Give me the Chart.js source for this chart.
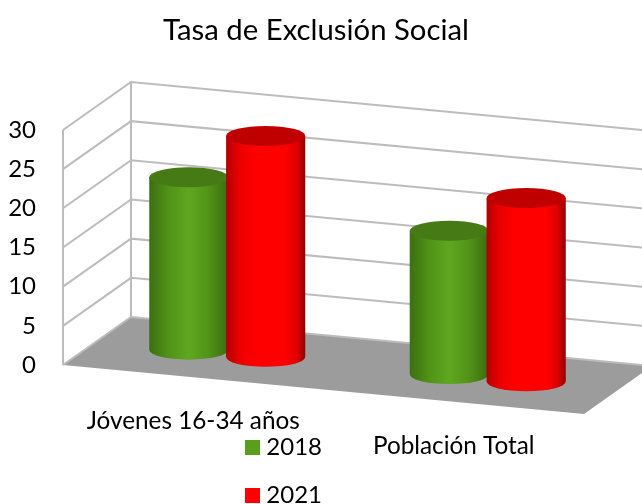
<!DOCTYPE html>
<html>
<head>
<meta charset="utf-8">
<title>Tasa de Exclusión Social</title>
<script src="https://cdn.jsdelivr.net/npm/chart.js@4/dist/chart.umd.min.js"></script>
<style>
  html, body { margin: 0; padding: 0; background: #fff; }
  #wrap { width: 642px; height: 504px; }
</style>
</head>
<body>
<div id="wrap"><canvas id="chart" width="642" height="504"></canvas></div>
<script>
// Data
const categories = ["Jóvenes 16-34 años", "Población Total"];
const years = ["2018", "2021"];
const values2018 = [22, 18.3];
const values2021 = [28.2, 23.4];
const yTicksStep = 5;
const yMax = 30;

// fake 3D look
const depthX = 68;
const depthY = 48;
const slope = 0.094;
const ellipseH = 10;
const fontName = "Lato, Carlito, Calibri, sans-serif";

const skewY = (area, x) => (x - area.left) * slope;

function cylinderFill(ctx, left, right, stops) {
  const g = ctx.createLinearGradient(left, 0, right, 0);
  stops.forEach((s) => g.addColorStop(s[0], s[1]));
  return g;
}

const styles = [
  {
    top: "#467a15",
    stops: [[0, "#3c6f11"], [0.25, "#519317"], [0.5, "#60a720"], [0.75, "#519317"], [1, "#3a6c10"]],
  },
  {
    top: "#c00000",
    stops: [[0, "#b00000"], [0.15, "#e60000"], [0.35, "#ff0000"], [0.75, "#ff0000"], [0.9, "#dd0000"], [1, "#920000"]],
  },
];

function drawWalls(chart) {
  const { ctx, chartArea: a, scales } = chart;
  const far = a.right + depthX;

  // floor
  ctx.save();
  ctx.fillStyle = "#9c9c9c";
  ctx.beginPath();
  ctx.moveTo(a.left, a.bottom);
  ctx.lineTo(a.left + depthX, a.bottom - depthY);
  ctx.lineTo(far, a.bottom - depthY + skewY(a, a.right));
  ctx.lineTo(a.right, a.bottom + skewY(a, a.right));
  ctx.closePath();
  ctx.fill();

  // grid lines on both walls
  ctx.strokeStyle = "#bcbcbc";
  ctx.lineWidth = 2;
  scales.y.ticks.forEach((t) => {
    const y = scales.y.getPixelForValue(t.value);
    ctx.beginPath();
    ctx.moveTo(a.left, y);
    ctx.lineTo(a.left + depthX, y - depthY);
    ctx.lineTo(far, y - depthY + skewY(a, a.right));
    ctx.stroke();
  });
  ctx.beginPath();
  ctx.moveTo(a.left, a.top);
  ctx.lineTo(a.left, a.bottom);
  ctx.moveTo(a.left + depthX, a.top - depthY);
  ctx.lineTo(a.left + depthX, a.bottom - depthY);
  ctx.stroke();
  ctx.restore();
}

function drawCylinders(chart) {
  const { ctx, chartArea: a } = chart;
  chart.data.datasets.forEach((ds, i) => {
    chart.getDatasetMeta(i).data.forEach((bar) => {
      const shift = skewY(a, bar.x) - depthY / 2;
      const cx = bar.x + depthX / 2;
      const rx = bar.width / 2;
      const top = bar.y + shift;
      const base = bar.base + shift;

      ctx.save();
      ctx.fillStyle = cylinderFill(ctx, cx - rx, cx + rx, styles[i].stops);
      ctx.beginPath();
      ctx.moveTo(cx - rx, top);
      ctx.lineTo(cx - rx, base);
      ctx.ellipse(cx, base, rx, ellipseH, 0, Math.PI, 0, true);
      ctx.lineTo(cx + rx, top);
      ctx.closePath();
      ctx.fill();

      ctx.fillStyle = styles[i].top;
      ctx.beginPath();
      ctx.ellipse(cx, top, rx, ellipseH, 0, 0, Math.PI * 2);
      ctx.fill();
      ctx.restore();
    });
  });
}

const cylinderPlugin = {
  id: "cylinders",
  afterLayout(chart) {
    // title sits a bit left of centre, legend hangs under the floor
    chart.titleBlock.left = 0;
    chart.titleBlock.right = 632;
    const legend = chart.legend;
    legend.left = 221;
    legend.right = 322;
    legend.top = 411.5;
    legend.bottom = 700;
  },
  beforeDatasetsDraw(chart) {
    drawWalls(chart);
    drawCylinders(chart);
    return false;
  },
  afterDraw(chart) {
    // category labels follow the slope of the floor
    const { ctx, chartArea: a, scales } = chart;
    ctx.save();
    ctx.fillStyle = "#000";
    ctx.font = "24.3px " + fontName;
    ctx.textAlign = "center";
    ctx.textBaseline = "middle";
    categories.forEach((c, i) => {
      const x = scales.x.getPixelForValue(i);
      ctx.fillText(c, x, a.bottom + 44 + skewY(a, x));
    });
    ctx.restore();
  },
};

new Chart(document.getElementById("chart"), {
  type: "bar",
  data: {
    labels: categories,
    datasets: [
      { label: years[0], data: values2018, backgroundColor: "#5a9e1d" },
      { label: years[1], data: values2021, backgroundColor: "#ff0000" },
    ],
  },
  options: {
    responsive: false,
    animation: false,
    layout: { padding: { left: 0, right: 58, top: 0, bottom: 139 } },
    datasets: { bar: { barPercentage: 1.03, categoryPercentage: 0.59 } },
    plugins: {
      title: {
        display: true,
        text: "Tasa de Exclusión Social",
        color: "#000",
        font: { family: fontName, size: 29.3, weight: "normal" },
        padding: { top: 13, bottom: 81.8 },
      },
      legend: {
        position: "chartArea",
        align: "start",
        labels: {
          boxWidth: 15,
          boxHeight: 15,
          padding: 24,
          color: "#000",
          textAlign: "right",
          font: { family: fontName, size: 24 },
        },
      },
      tooltip: { enabled: false },
    },
    scales: {
      x: { display: false },
      y: {
        min: 0,
        max: yMax,
        afterFit(scale) {
          scale.width = 63;
        },
        grid: { display: false },
        border: { display: false },
        ticks: {
          stepSize: yTicksStep,
          padding: 19,
          color: "#000",
          font: { family: fontName, size: 24 },
        },
      },
    },
  },
  plugins: [cylinderPlugin],
});
</script>
</body>
</html>
